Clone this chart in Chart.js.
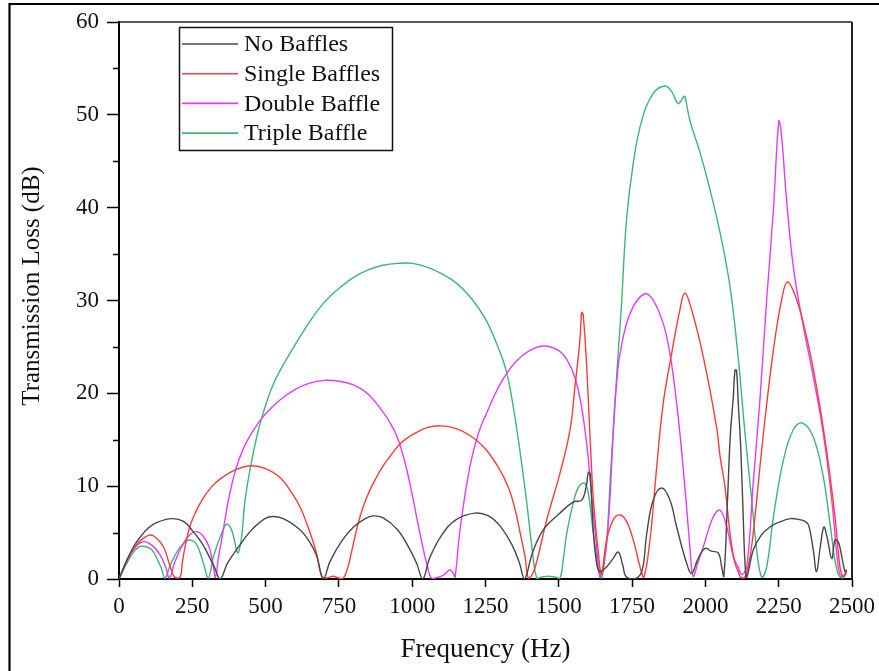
<!DOCTYPE html>
<html>
<head>
<meta charset="utf-8">
<title>Transmission Loss vs Frequency</title>
<script src="https://cdn.jsdelivr.net/npm/chart.js@4.4.1/dist/chart.umd.min.js"></script>
<style>
  html, body { margin: 0; padding: 0; background: #ffffff; }
  canvas { display: block; }
</style>
</head>
<body>
<canvas id="tlChart" width="879" height="671"></canvas>
<script>
// Series labels
const seriesLabels = ['No Baffles', 'Single Baffles', 'Double Baffle', 'Triple Baffle'];

// Axis ranges and ticks
const freqTicks = [0, 250, 500, 750, 1000, 1250, 1500, 1750, 2000, 2250, 2500];
const tlTicks = [0, 10, 20, 30, 40, 50, 60];

// No baffles: frequency (Hz) and transmission loss (dB)
const noBafflesHz = [0, 25, 50, 72, 100, 130, 180, 220, 253, 280, 300, 325, 345,
  370, 413, 447, 480, 515, 560, 617, 650, 674, 697,
  720, 760, 800, 840, 867, 900, 950, 990, 1015, 1036,
  1060, 1100, 1150, 1214, 1260, 1300, 1340, 1365, 1383,
  1410, 1447, 1504, 1550, 1578, 1593, 1601, 1607, 1618, 1630, 1640, 1663, 1685, 1703, 1718, 1731,
  1765, 1785, 1800, 1822, 1851, 1879, 1902, 1936, 1953, 1975, 1999, 2020, 2044, 2055, 2063,
  2075, 2085, 2095, 2101, 2106, 2112, 2120, 2129, 2135, 2141, 2163, 2190, 2220, 2250, 2289,
  2320, 2340, 2352, 2368, 2379, 2392, 2404, 2415, 2431, 2442, 2453, 2461, 2476, 2482];
const noBafflesTL = [0, 1.9, 3.5, 4.5, 5.5, 6.1, 6.5, 6.2, 5.1, 4.0, 2.9, 1.3, 0,
  1.7, 3.7, 5.1, 6.1, 6.7, 6.5, 5.3, 4.0, 2.5, 0,
  1.9, 4.1, 5.6, 6.5, 6.8, 6.6, 5.3, 3.3, 1.7, 0,
  2.3, 4.7, 6.4, 7.1, 6.8, 5.7, 3.7, 1.8, 0,
  2.8, 5.3, 7.1, 8.3, 8.5, 9.9, 11.5, 11.3, 5.0, 1.5, 0.8, 1.3, 2.2, 2.9, 1.5, 0.2,
  0.1, 1.0, 4.9, 8.5, 9.8, 8.5, 5.6, 1.7, 0.6, 2.2, 3.3, 3.0, 2.8, 1.4, 0.3,
  8.2, 15.5, 19.5, 22.5, 22.5, 19.0, 14.5, 6.7, 1.7, 0.2, 3.1, 4.7, 5.6, 6.1, 6.5,
  6.4, 6.2, 5.8, 3.1, 0.8, 3.5, 5.6, 4.5, 2.2, 4.2, 4.0, 3.1, 0.8, 1.0];

// Single baffle
const singleHz = [0, 25, 50, 72, 100, 120, 151, 170, 180, 190, 208, 216, 225, 240, 260, 285, 315, 350, 400, 450,
  500, 550, 595, 620, 640, 660, 674, 690, 705, 731, 750, 765, 778, 788, 805, 822, 845, 867, 895,
  924, 960, 1004, 1050, 1100, 1150, 1200, 1250, 1300, 1330, 1350, 1370, 1385, 1396, 1410,
  1425, 1459, 1504, 1538, 1555, 1572, 1578, 1583, 1595, 1606, 1618, 1635, 1646, 1663, 1686, 1709,
  1731, 1754, 1777, 1790, 1811, 1834, 1856, 1885, 1913, 1930, 1953, 1993, 2038, 2050, 2067, 2084,
  2100, 2112, 2120, 2135, 2150, 2163, 2198, 2232, 2260, 2280, 2311, 2345, 2379, 2413, 2442, 2459,
  2470, 2482];
const singleTL = [0, 1.9, 3.3, 4.1, 4.7, 4.6, 3.5, 1.8, 0.8, 0.2, 0.2, 1.8, 3.4, 5.5, 7.1, 8.6, 9.9, 10.9, 11.8, 12.2,
  11.9, 10.9, 9.0, 7.6, 6.0, 4.2, 2.7, 0.4, 0.1, 0.3, 0.1, 0.1, 1.0, 2.2, 4.6, 6.7, 8.8, 10.3, 11.9,
  13.2, 14.6, 15.6, 16.3, 16.5, 16.2, 15.4, 14.0, 11.7, 9.7, 7.6, 4.7, 2.4, 0.1, 0.5,
  1.9, 6.4, 11.4, 16.0, 20.7, 25.7, 28.7, 28.5, 22.9, 15.7, 8.5, 2.8, 0.5, 4.2, 6.4, 6.9,
  6.2, 4.2, 1.3, 0.2, 4.2, 12.1, 18.9, 24.3, 29.0, 30.8, 29.0, 23.9, 16.4, 13.2, 9.9, 4.9,
  1.8, 0.8, 0.2, 0.2, 2.0, 4.9, 15.7, 24.7, 30.1, 32.0, 30.1, 26.1, 20.7, 13.9, 6.7, 1.3,
  0.3, 0.9];

// Double baffle
const doubleHz = [0, 25, 50, 80, 110, 140, 160, 172, 190, 214, 240, 265, 290, 310, 322, 329,
  340, 350, 375, 400, 425, 450, 475, 500, 550, 600, 650, 700, 750, 800, 850, 900, 925, 950, 975, 1000,
  1015, 1035, 1050, 1066, 1090, 1110, 1129, 1140, 1146, 1160, 1175, 1200, 1225, 1250, 1300, 1350,
  1400, 1450, 1500, 1530, 1555, 1575, 1595, 1612, 1629, 1640, 1652, 1663, 1675, 1686, 1697, 1709, 1743, 1792,
  1828, 1868, 1902, 1930, 1947, 1958, 1975, 1993, 2027, 2050, 2073, 2095, 2110, 2124, 2141, 2163,
  2186, 2209, 2232, 2250, 2258, 2277, 2300, 2334, 2368, 2402, 2431, 2453, 2465, 2482];
const doubleTL = [0, 1.8, 3.2, 4.0, 3.7, 2.6, 1.2, 0.1, 1.8, 3.5, 4.7, 5.1, 4.5, 3.2, 1.3, 0.2,
  2.5, 4.2, 8.8, 12.0, 14.1, 15.6, 16.8, 17.8, 19.3, 20.4, 21.1, 21.4, 21.3, 20.9, 19.9, 18.0, 16.8, 15.2, 12.6, 9.1,
  6.7, 3.6, 1.6, 0.1, 0.2, 0.5, 1.0, 0.6, 0.2, 4.5, 8.0, 12.6, 15.6, 17.6, 21.0, 23.3,
  24.6, 25.1, 24.6, 23.5, 21.7, 19.0, 14.6, 8.9, 3.5, 0.2, 1.5, 3.8, 9.0, 16.0, 21.0, 24.3, 28.6, 30.7,
  29.7, 26.1, 18.9, 9.9, 3.5, 0.3, 1.8, 3.5, 6.7, 7.4, 5.6, 2.4, 1.4, 0.5, 1.3, 10.3,
  19.3, 30.1, 39.8, 49.3, 48.3, 40.8, 33.6, 27.2, 21.8, 15.7, 8.5, 1.3, 0.2, 0.8];

// Triple baffle
const tripleHz = [0, 25, 50, 72, 106, 125, 145, 157, 175, 197, 219, 242, 265, 288, 305,
  322, 350, 367, 384, 401, 407, 418, 430, 450, 475, 500, 525, 550, 600, 650, 700, 750, 800, 850,
  900, 950, 1000, 1050, 1100, 1150, 1200, 1250, 1290, 1320, 1345, 1370, 1390, 1410, 1425, 1440, 1465, 1490, 1504,
  1515, 1527, 1555, 1572, 1589, 1601, 1618, 1635, 1646, 1663, 1675, 1692, 1703, 1714, 1731, 1754,
  1783, 1822, 1862, 1885, 1900, 1908, 1925, 1930, 1947, 1982, 2016, 2050, 2084, 2112, 2135, 2158,
  2175, 2192, 2209, 2232, 2266, 2300, 2331, 2368, 2402, 2425, 2448, 2465, 2482];
const tripleTL = [0, 1.6, 2.9, 3.5, 3.3, 2.5, 1.1, 0.1, 1.5, 2.9, 3.8, 4.2, 3.7, 1.7, 0.1,
  2.4, 4.9, 5.9, 5.3, 3.1, 2.8, 4.5, 8.5, 12.3, 16.0, 18.7, 20.9, 22.5, 25.2, 27.7, 29.8, 31.3, 32.5, 33.3,
  33.8, 34.0, 34.0, 33.6, 32.9, 31.9, 30.3, 28.0, 25.2, 22.5, 18.5, 13.2, 8.4, 3.0, 0.1, 0.2, 0.3, 0.2, 0.1,
  2.0, 4.9, 8.9, 10.1, 10.3, 9.2, 4.9, 1.3, 0.1, 4.0, 10.5, 19.3, 24.5, 29.7, 38.7, 44.8,
  49.4, 52.3, 53.1, 52.5, 51.5, 51.2, 51.9, 52.0, 49.4, 45.9, 41.9, 37.3, 31.5, 23.8, 15.7, 8.5,
  3.1, 0.2, 1.3, 6.7, 12.8, 16.1, 16.8, 15.3, 11.0, 6.0, 1.0, 0.1, 0.6];

const seriesColors = ['#474747', '#ff3b3b', '#e23cff', '#3cb774'];

const serif = "'Liberation Serif', 'Times New Roman', serif";
const yTitle = 'Transmission Loss (dB)';

function pairUp(xs, ys) {
  return xs.map((x, i) => ({ x: x, y: ys[i] }));
}

const seriesData = [
  pairUp(noBafflesHz, noBafflesTL),
  pairUp(singleHz, singleTL),
  pairUp(doubleHz, doubleTL),
  pairUp(tripleHz, tripleTL)
];

// Page background, outer frame, top/right plot frame, minor y ticks,
// the y-axis title and the boxed legend
const decorations = {
  id: 'decorations',
  beforeDraw(chart) {
    const ctx = chart.ctx;
    ctx.save();
    ctx.fillStyle = '#ffffff';
    ctx.fillRect(0, 0, chart.width, chart.height);
    ctx.restore();
  },
  afterDraw(chart) {
    const ctx = chart.ctx;
    const area = chart.chartArea;
    const yScale = chart.scales.y;
    ctx.save();

    // outer figure frame
    ctx.strokeStyle = '#000';
    ctx.lineWidth = 2.2;
    ctx.beginPath();
    ctx.moveTo(9.5, chart.height + 5);
    ctx.lineTo(9.5, 4);
    ctx.lineTo(chart.width + 5, 4);
    ctx.stroke();

    // top and right sides of the plot box
    ctx.lineWidth = 1.6;
    ctx.strokeStyle = '#222';
    ctx.beginPath();
    ctx.moveTo(area.left, area.top);
    ctx.lineTo(area.right, area.top);
    ctx.stroke();
    ctx.lineWidth = 2;
    ctx.beginPath();
    ctx.moveTo(area.right, area.top);
    ctx.lineTo(area.right, area.bottom);
    ctx.stroke();

    // minor ticks on the y axis
    ctx.strokeStyle = '#000';
    ctx.lineWidth = 1.5;
    for (let v = tlTicks[0] + 5; v < tlTicks[tlTicks.length - 1]; v += 10) {
      const py = Math.round(yScale.getPixelForValue(v)) + 0.5;
      ctx.beginPath();
      ctx.moveTo(area.left - 6, py);
      ctx.lineTo(area.left, py);
      ctx.stroke();
    }

    // y-axis title, rotated
    ctx.save();
    ctx.translate(32, 286);
    ctx.rotate(-Math.PI / 2);
    ctx.font = '25px ' + serif;
    ctx.fillStyle = '#111';
    ctx.textAlign = 'center';
    ctx.textBaseline = 'middle';
    ctx.fillText(yTitle, 0, 0);
    ctx.restore();

    // legend box
    const box = { x: 179, y: 27, w: 213, h: 123 };
    ctx.lineWidth = 1.5;
    ctx.strokeStyle = '#111';
    ctx.strokeRect(box.x + 0.5, box.y + 0.5, box.w, box.h);
    ctx.font = '24px ' + serif;
    ctx.textBaseline = 'middle';
    ctx.textAlign = 'left';
    chart.data.datasets.forEach((ds, i) => {
      const rowY = 44 + i * 29.7;
      ctx.strokeStyle = ds.borderColor;
      ctx.lineWidth = 1.6;
      ctx.beginPath();
      ctx.moveTo(182, rowY);
      ctx.lineTo(238, rowY);
      ctx.stroke();
      ctx.fillStyle = '#111';
      ctx.fillText(ds.label, 244, rowY + 1);
    });
    ctx.restore();
  }
};

new Chart(document.getElementById('tlChart'), {
  type: 'line',
  data: {
    datasets: seriesLabels.map((label, i) => ({
      label: label,
      data: seriesData[i],
      borderColor: seriesColors[i],
      backgroundColor: seriesColors[i],
      borderWidth: 1.4,
      pointRadius: 0,
      fill: false,
      tension: 0.4
    }))
  },
  options: {
    responsive: false,
    animation: false,
    devicePixelRatio: 1,
    layout: { padding: { top: 22, right: 27, left: 0, bottom: 0 } },
    plugins: {
      legend: { display: false },
      tooltip: { enabled: false }
    },
    scales: {
      x: {
        type: 'linear',
        min: freqTicks[0],
        max: freqTicks[freqTicks.length - 1],
        afterBuildTicks(scale) { scale.ticks = freqTicks.map(v => ({ value: v })); },
        afterFit(scale) {
          scale.height = 92;
          scale.paddingLeft = 0;
          scale.paddingRight = 0;
        },
        ticks: {
          color: '#111',
          font: { family: serif, size: 23 },
          padding: 6,
          maxRotation: 0,
          autoSkip: false,
          callback: v => String(v)
        },
        grid: {
          drawOnChartArea: false,
          drawTicks: true,
          tickLength: 8,
          tickWidth: 1.5,
          color: '#000'
        },
        border: { display: true, color: '#000', width: 2 },
        title: {
          display: true,
          text: 'Frequency (Hz)',
          color: '#111',
          font: { family: serif, size: 27 },
          padding: { top: 0, bottom: 5 }
        }
      },
      y: {
        type: 'linear',
        min: tlTicks[0],
        max: tlTicks[tlTicks.length - 1],
        afterBuildTicks(scale) { scale.ticks = tlTicks.map(v => ({ value: v })); },
        afterFit(scale) {
          scale.width = 119;
          scale.paddingTop = 0;
          scale.paddingBottom = 0;
        },
        ticks: {
          color: '#111',
          font: { family: serif, size: 23 },
          padding: 8,
          callback: v => String(v)
        },
        grid: {
          drawOnChartArea: false,
          drawTicks: true,
          tickLength: 12,
          tickWidth: 1.5,
          color: '#000'
        },
        border: { display: true, color: '#000', width: 2 },
        title: { display: false }
      }
    }
  },
  plugins: [decorations]
});
</script>
</body>
</html>
